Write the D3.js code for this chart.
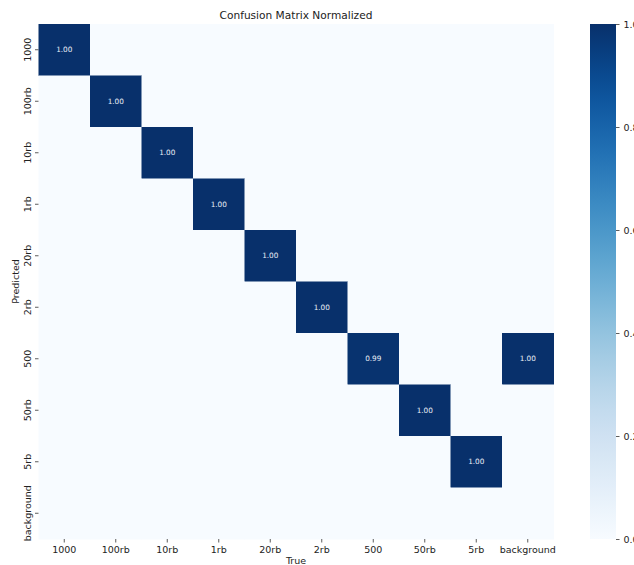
<!DOCTYPE html>
<html>
<head>
<meta charset="utf-8">
<script src="https://cdn.jsdelivr.net/npm/d3@7"></script>
<style>
  html, body { margin: 0; padding: 0; background: #fff; }
  svg { display: block; font-family: "DejaVu Sans", sans-serif; }
</style>
</head>
<body>
<svg id="chart" width="634" height="565"></svg>
<script>
// ---- data ----
const trueLabels = ["1000", "100rb", "10rb", "1rb", "20rb", "2rb", "500", "50rb", "5rb", "background"];
const predLabels = ["1000", "100rb", "10rb", "1rb", "20rb", "2rb", "500", "50rb", "5rb", "background"];
// rows = predicted, columns = true; null = empty (not annotated)
const row1000 = [1.00, null, null, null, null, null, null, null, null, null];
const row100rb = [null, 1.00, null, null, null, null, null, null, null, null];
const row10rb = [null, null, 1.00, null, null, null, null, null, null, null];
const row1rb = [null, null, null, 1.00, null, null, null, null, null, null];
const row20rb = [null, null, null, null, 1.00, null, null, null, null, null];
const row2rb = [null, null, null, null, null, 1.00, null, null, null, null];
const row500 = [null, null, null, null, null, null, 0.99, null, null, 1.00];
const row50rb = [null, null, null, null, null, null, null, 1.00, null, null];
const row5rb = [null, null, null, null, null, null, null, null, 1.00, null];
const rowBackground = [null, null, null, null, null, null, null, null, null, null];
const matrix = [row1000, row100rb, row10rb, row1rb, row20rb, row2rb, row500, row50rb, row5rb, rowBackground];
const colorbarTicks = [0.0, 0.2, 0.4, 0.6, 0.8, 1.0];
const titleText = "Confusion Matrix Normalized";
const xTitle = "True";
const yTitle = "Predicted";

// ---- layout ----
const svg = d3.select("#chart");
const mLeft = 38.5, mTop = 24, size = 515;
const cbX = 590, cbW = 26;
const fs = 9.5;

const x = d3.scaleBand().domain(trueLabels).range([mLeft, mLeft + size]);
const y = d3.scaleBand().domain(predLabels).range([mTop, mTop + size]);
const color = d3.scaleSequential(d3.interpolateBlues).domain([0, 1]);

const cells = [];
matrix.forEach((row, i) => row.forEach((v, j) => cells.push({ p: predLabels[i], t: trueLabels[j], v })));

svg.append("g").selectAll("rect").data(cells).join("rect")
  .attr("x", d => x(d.t))
  .attr("y", d => y(d.p))
  .attr("width", x.bandwidth() + 0.5)
  .attr("height", y.bandwidth() + 0.5)
  .attr("fill", d => color(d.v == null ? 0 : d.v));

svg.append("g").selectAll("text").data(cells.filter(d => d.v != null)).join("text")
  .attr("x", d => x(d.t) + x.bandwidth() / 2)
  .attr("y", d => y(d.p) + y.bandwidth() / 2)
  .attr("text-anchor", "middle")
  .attr("dominant-baseline", "central")
  .attr("font-size", 7.3)
  .attr("fill", "#e8eef6")
  .text(d => d.v.toFixed(2));

// x axis
const xAxis = svg.append("g")
  .attr("transform", `translate(0,${mTop + size})`)
  .call(d3.axisBottom(x).tickSize(3.5).tickPadding(4));
xAxis.select(".domain").remove();
xAxis.selectAll("line").attr("stroke", "#333").attr("stroke-width", 0.8);
xAxis.selectAll("text").attr("font-size", fs).attr("fill", "#222").attr("font-family", "DejaVu Sans");

// y axis
const yAxis = svg.append("g")
  .attr("transform", `translate(${mLeft},0)`)
  .call(d3.axisLeft(y).tickSize(3.5).tickPadding(4));
yAxis.select(".domain").remove();
yAxis.selectAll("line").attr("stroke", "#333").attr("stroke-width", 0.8);
yAxis.selectAll("text")
  .attr("font-size", fs).attr("fill", "#222").attr("font-family", "DejaVu Sans")
  .attr("x", null).attr("dy", null)
  .attr("text-anchor", "middle")
  .attr("dominant-baseline", "central")
  .attr("transform", "translate(-11,0) rotate(-90)");

// titles
svg.append("text").attr("x", mLeft + size / 2).attr("y", 19)
  .attr("text-anchor", "middle").attr("font-size", 10.6).attr("fill", "#222")
  .text(titleText);
svg.append("text").attr("x", mLeft + size / 2).attr("y", 564)
  .attr("text-anchor", "middle").attr("font-size", fs).attr("fill", "#222")
  .text(xTitle);
svg.append("text")
  .attr("transform", `translate(19,${mTop + size / 2}) rotate(-90)`)
  .attr("text-anchor", "middle").attr("font-size", fs).attr("fill", "#222")
  .text(yTitle);

// colorbar
const defs = svg.append("defs");
const grad = defs.append("linearGradient").attr("id", "cbgrad")
  .attr("x1", 0).attr("y1", 1).attr("x2", 0).attr("y2", 0);
d3.range(0, 1.0001, 0.05).forEach(t => {
  grad.append("stop").attr("offset", t).attr("stop-color", color(t));
});
svg.append("rect").attr("x", cbX).attr("y", mTop).attr("width", cbW).attr("height", size)
  .attr("fill", "url(#cbgrad)");
const cbScale = d3.scaleLinear().domain([0, 1]).range([mTop + size, mTop]);
const cbAxis = svg.append("g")
  .attr("transform", `translate(${cbX + cbW},0)`)
  .call(d3.axisRight(cbScale).tickValues(colorbarTicks).tickFormat(d3.format(".1f")).tickSize(3.5).tickPadding(4));
cbAxis.select(".domain").remove();
cbAxis.selectAll("line").attr("stroke", "#333").attr("stroke-width", 0.8);
cbAxis.selectAll("text").attr("font-size", fs).attr("fill", "#222").attr("font-family", "DejaVu Sans");
</script>
</body>
</html>
